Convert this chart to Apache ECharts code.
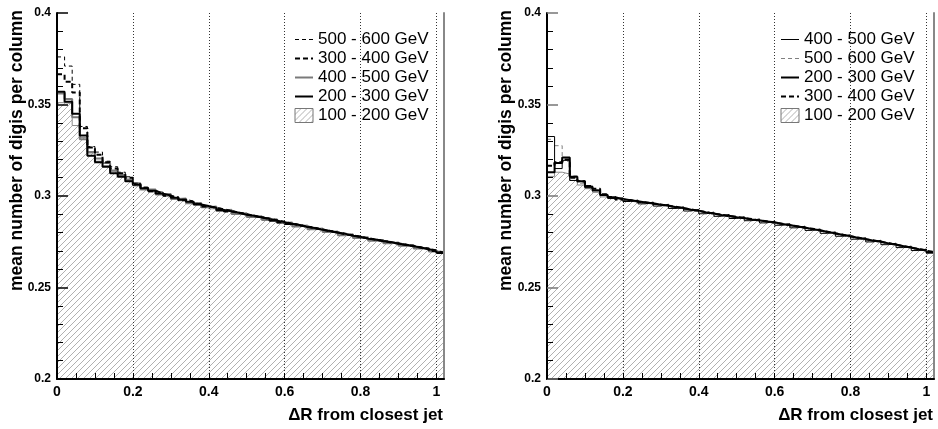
<!DOCTYPE html>
<html>
<head>
<meta charset="utf-8">
<script src="https://cdn.jsdelivr.net/npm/echarts@6/dist/echarts.min.js"></script>
<style>
html,body{margin:0;padding:0;background:#fff;}
#chart{width:938px;height:429px;}
</style>
</head>
<body>
<div id="chart"></div>
<script>
// ---- data ----
const BIN_WIDTH = 0.02;
const X_MAX = 1.02;
const xTickLabels = ['0', '0.2', '0.4', '0.6', '0.8', '1'];
const yTickLabels = ['0.2', '0.25', '0.3', '0.35', '0.4'];

// Left panel
const L_100_200 = [0.3510,0.3505,0.3385,0.3320,0.3235,0.3190,0.3165,0.3135,0.3110,0.3085,
 0.3055,0.3040,0.3022,0.3010,0.2998,0.2987,0.2974,0.2963,0.2951,0.2941,0.2930,0.2921,0.2913,0.2903,0.2895,0.2888,0.2879,0.2871,0.2863,0.2853,0.2845,0.2836,0.2829,0.2820,0.2813,0.2804,0.2797,0.2788,0.2781,0.2772,0.2765,0.2757,0.2751,0.2743,0.2737,0.2729,0.2723,0.2714,0.2707,0.2697,0.2687];
const L_200_300 = [0.3570,0.3515,0.3450,0.3330,0.3220,0.3185,0.3160,0.3125,0.3105,0.3080,
 0.3062,0.3043,0.3029,0.3013,0.3003,0.2991,0.2979,0.2968,0.2954,0.2945,0.2935,0.2924,0.2917,0.2908,0.2898,0.2892,0.2882,0.2876,0.2865,0.2858,0.2847,0.2841,0.2831,0.2825,0.2815,0.2809,0.2799,0.2793,0.2783,0.2777,0.2767,0.2762,0.2753,0.2748,0.2739,0.2734,0.2725,0.2719,0.2709,0.2702,0.2689];
const L_300_400 = [0.3665,0.3625,0.3565,0.3370,0.3265,0.3225,0.3185,0.3150,0.3125,0.3100,
 0.3064,0.3045,0.3026,0.3016,0.3001,0.2992,0.2977,0.2967,0.2956,0.2943,0.2936,0.2926,0.2915,0.2909,0.2900,0.2890,0.2884,0.2874,0.2867,0.2856,0.2849,0.2839,0.2833,0.2823,0.2817,0.2807,0.2801,0.2791,0.2785,0.2775,0.2769,0.2760,0.2755,0.2746,0.2741,0.2732,0.2727,0.2717,0.2711,0.2700,0.2691];
const L_400_500 = [0.3560,0.3530,0.3430,0.3310,0.3240,0.3205,0.3180,0.3140,0.3115,0.3090,
 0.3070,0.3036,0.3035,0.3008,0.3011,0.2984,0.2986,0.2961,0.2962,0.2939,0.2943,0.2918,0.2925,0.2901,0.2906,0.2885,0.2890,0.2869,0.2873,0.2852,0.2855,0.2834,0.2839,0.2818,0.2823,0.2803,0.2806,0.2786,0.2791,0.2771,0.2774,0.2755,0.2760,0.2742,0.2746,0.2728,0.2732,0.2713,0.2716,0.2697,0.2694];
const L_500_600 = [0.3760,0.3710,0.3610,0.3380,0.3270,0.3240,0.3190,0.3160,0.3130,0.3105,
 0.3070,0.3048,0.3030,0.3020,0.3006,0.2995,0.2982,0.2972,0.2960,0.2948,0.2938,0.2930,0.2921,0.2912,0.2903,0.2895,0.2887,0.2880,0.2870,0.2861,0.2852,0.2845,0.2836,0.2829,0.2820,0.2812,0.2804,0.2797,0.2788,0.2780,0.2772,0.2765,0.2758,0.2751,0.2744,0.2737,0.2730,0.2722,0.2714,0.2705,0.2694];

// Right panel
const R_100_200 = [0.3107,0.3130,0.3120,0.3085,0.3060,0.3040,0.3020,0.2995,
 0.2985,0.2978,0.2972,0.2966,0.2961,0.2955,0.2950,0.2943,0.2936,0.2930,0.2922,0.2916,0.2907,0.2901,0.2893,0.2888,0.2881,0.2876,0.2869,0.2864,0.2857,0.2852,0.2844,0.2838,0.2830,0.2824,0.2816,0.2809,0.2800,0.2793,0.2784,0.2777,0.2768,0.2761,0.2753,0.2747,0.2738,0.2731,0.2722,0.2715,0.2706,0.2699,0.2689];
const R_200_300 = [0.3130,0.3180,0.3210,0.3105,0.3080,0.3050,0.3030,0.3005,
 0.2993,0.2983,0.2977,0.2971,0.2964,0.2960,0.2952,0.2948,0.2939,0.2934,0.2925,0.2920,0.2910,0.2905,0.2896,0.2892,0.2884,0.2880,0.2872,0.2868,0.2860,0.2856,0.2847,0.2842,0.2833,0.2828,0.2819,0.2813,0.2803,0.2797,0.2787,0.2781,0.2771,0.2765,0.2756,0.2751,0.2741,0.2735,0.2725,0.2719,0.2709,0.2703,0.2692];
const R_300_400 = [0.3165,0.3185,0.3200,0.3100,0.3080,0.3055,0.3040,0.3010,
 0.2994,0.2981,0.2978,0.2969,0.2966,0.2958,0.2954,0.2946,0.2941,0.2932,0.2927,0.2918,0.2912,0.2903,0.2898,0.2890,0.2886,0.2878,0.2874,0.2866,0.2862,0.2854,0.2849,0.2840,0.2835,0.2826,0.2821,0.2811,0.2805,0.2795,0.2789,0.2779,0.2773,0.2763,0.2758,0.2749,0.2743,0.2733,0.2727,0.2717,0.2711,0.2701,0.2694];
const R_400_500 = [0.3325,0.3150,0.3195,0.3085,0.3075,0.3045,0.3030,0.3005,
 0.2986,0.2990,0.2970,0.2978,0.2957,0.2967,0.2945,0.2955,0.2932,0.2941,0.2918,0.2927,0.2903,0.2912,0.2889,0.2899,0.2877,0.2887,0.2865,0.2875,0.2853,0.2863,0.2840,0.2849,0.2826,0.2835,0.2812,0.2820,0.2796,0.2804,0.2780,0.2788,0.2764,0.2772,0.2749,0.2758,0.2734,0.2742,0.2718,0.2726,0.2702,0.2710,0.2688];
const R_500_600 = [0.3310,0.3275,0.3190,0.3110,0.3070,0.3055,0.3035,0.3010,
 0.2991,0.2980,0.2976,0.2968,0.2965,0.2957,0.2953,0.2945,0.2940,0.2931,0.2926,0.2917,0.2911,0.2902,0.2897,0.2889,0.2885,0.2877,0.2873,0.2865,0.2861,0.2853,0.2848,0.2839,0.2834,0.2825,0.2820,0.2810,0.2804,0.2794,0.2788,0.2778,0.2772,0.2762,0.2757,0.2748,0.2742,0.2732,0.2726,0.2716,0.2710,0.2700,0.2693];

// ---- helpers ----
function histPoints(vals) {
  const pts = vals.map((v, i) => [+(i * BIN_WIDTH).toFixed(4), v]);
  pts.push([X_MAX, vals[vals.length - 1]]);
  return pts;
}
function hatchPattern() {
  const c = document.createElement('canvas');
  c.width = 6; c.height = 6;
  const g = c.getContext('2d');
  g.fillStyle = '#ffffff'; g.fillRect(0, 0, 6, 6);
  g.strokeStyle = '#a8a8a8'; g.lineWidth = 0.9;
  g.beginPath();
  g.moveTo(0, 6); g.lineTo(6, 0);
  g.moveTo(-1, 1); g.lineTo(1, -1);
  g.moveTo(5, 7); g.lineTo(7, 5);
  g.stroke();
  return { image: c, repeat: 'repeat' };
}
const HATCH = hatchPattern();
const FONT = 'Liberation Sans, Arial, Helvetica, sans-serif';
const NOFILL = 'rgba(0,0,0,0)';

const grids = [
  { left: 57, top: 13, width: 387, height: 366 },
  { left: 547, top: 13, width: 387, height: 366 }
];

function xAxes(gi) {
  return [
    { type: 'value', gridIndex: gi, position: 'bottom', min: 0, max: X_MAX, interval: 0.05, z: 10,
      axisLine: { show: true, onZero: false, lineStyle: { color: '#000', width: 2 } },
      axisTick: { show: true, inside: true, length: 6, lineStyle: { color: '#000' } },
      axisLabel: { show: true, margin: 6, fontFamily: FONT, fontWeight: 'bold', fontSize: 14, color: '#000',
        showMaxLabel: false,
        formatter: function (v) {
          const k = Math.round(v / 0.2);
          if (Math.abs(v - k * 0.2) < 1e-6 && k <= 5) return xTickLabels[k];
          return '';
        } },
      splitLine: { show: false } },
    { type: 'value', gridIndex: gi, position: 'top', min: 0, max: X_MAX, interval: 0.2, z: 10,
      axisLine: { show: false }, axisTick: { show: false }, axisLabel: { show: false },
      splitLine: { show: true, lineStyle: { color: '#333', type: [1, 2], width: 1 } } }
  ];
}
function yAxes(gi, tickColor) {
  return [
    { type: 'value', gridIndex: gi, position: 'left', min: 0.2, max: 0.4, interval: 0.05, z: 10,
      axisLine: { show: true, onZero: false, lineStyle: { color: '#000', width: 2 } },
      axisTick: { show: true, inside: true, length: 11, lineStyle: { color: tickColor, width: 1.5 } },
      minorTick: { show: true, splitNumber: 5, length: 6, lineStyle: { color: '#000' } },
      axisLabel: { show: true, margin: 6, fontFamily: FONT, fontWeight: 'bold', fontSize: 12, color: '#000',
        formatter: function (v) {
          const k = Math.round((v - 0.2) / 0.05);
          return yTickLabels[k] !== undefined ? yTickLabels[k] : '';
        } },
      splitLine: { show: false } },
    { type: 'value', gridIndex: gi, position: 'right', min: 0.2, max: 0.4, z: 10,
      axisLine: { show: true, onZero: false, lineStyle: { color: '#888', width: 2 } },
      axisTick: { show: false }, axisLabel: { show: false }, splitLine: { show: false } }
  ];
}

function lineSeries(name, vals, xi, yi, color, width, type, z) {
  return { name: name, type: 'line', step: 'end', xAxisIndex: xi, yAxisIndex: yi,
    data: histPoints(vals), symbol: 'none', showSymbol: false, silent: true, z: z,
    color: color, lineStyle: { color: color, width: width, type: type }, animation: false };
}
function hatchSeries(name, vals, xi, yi) {
  return { name: name, type: 'line', step: 'end', xAxisIndex: xi, yAxisIndex: yi,
    data: histPoints(vals), symbol: 'none', showSymbol: false, silent: true, z: 1,
    color: '#888', lineStyle: { color: '#8a8a8a', width: 1 },
    areaStyle: { color: HATCH, origin: 'start', opacity: 1 }, animation: false };
}

const series = [
  hatchSeries('100 - 200 GeV', L_100_200, 0, 0),
  lineSeries('400 - 500 GeV', L_400_500, 0, 0, '#7a7a7a', 2, 'solid', 2),
  lineSeries('200 - 300 GeV', L_200_300, 0, 0, '#000', 2, 'solid', 3),
  lineSeries('300 - 400 GeV', L_300_400, 0, 0, '#000', 2, [5, 3], 4),
  lineSeries('500 - 600 GeV', L_500_600, 0, 0, '#000', 1, [4, 3], 5),

  hatchSeries('100 - 200 GeV', R_100_200, 2, 2),
  lineSeries('500 - 600 GeV', R_500_600, 2, 2, '#808080', 1, [4, 3], 2),
  lineSeries('400 - 500 GeV', R_400_500, 2, 2, '#000', 1, 'solid', 3),
  lineSeries('300 - 400 GeV', R_300_400, 2, 2, '#000', 2, [5, 3], 4),
  lineSeries('200 - 300 GeV', R_200_300, 2, 2, '#000', 2, 'solid', 5)
];

function legend(left, items) {
  return { show: true, orient: 'vertical', left: left, top: 31, padding: 0,
    itemWidth: 18, itemHeight: 14, itemGap: 2,
    selectedMode: false, textStyle: { fontFamily: FONT, fontSize: 17, color: '#000' },
    data: items.map(it => it.hatch ?
      { name: it.name, icon: 'rect', itemStyle: { color: HATCH, borderColor: '#777', borderWidth: 1 } } :
      { name: it.name, itemStyle: { color: NOFILL, borderColor: NOFILL, borderWidth: 0, opacity: 0 },
        lineStyle: { color: it.color, width: it.width, type: it.type, opacity: 1 } }) };
}

const option = {
  backgroundColor: '#fff',
  animation: false,
  grid: grids,
  xAxis: [...xAxes(0), ...xAxes(1)],
  yAxis: [...yAxes(0, '#000'), ...yAxes(1, '#777')],
  legend: [
    legend(294, [
      { name: '500 - 600 GeV', color: '#000', width: 1, type: [4, 3] },
      { name: '300 - 400 GeV', color: '#000', width: 2, type: [5, 3] },
      { name: '400 - 500 GeV', color: '#7a7a7a', width: 2, type: 'solid' },
      { name: '200 - 300 GeV', color: '#000', width: 2, type: 'solid' },
      { name: '100 - 200 GeV', hatch: true }
    ]),
    legend(780, [
      { name: '400 - 500 GeV', color: '#000', width: 1, type: 'solid' },
      { name: '500 - 600 GeV', color: '#808080', width: 1, type: [4, 3] },
      { name: '200 - 300 GeV', color: '#000', width: 2, type: 'solid' },
      { name: '300 - 400 GeV', color: '#000', width: 2, type: [5, 3] },
      { name: '100 - 200 GeV', hatch: true }
    ])
  ],
  graphic: [
    { type: 'text', x: 17, y: 10, rotation: Math.PI / 2,
      style: { text: 'mean number of digis per column', font: 'bold 17.5px ' + FONT, fill: '#000', align: 'right', verticalAlign: 'middle' } },
    { type: 'text', x: 506, y: 10, rotation: Math.PI / 2,
      style: { text: 'mean number of digis per column', font: 'bold 17.5px ' + FONT, fill: '#000', align: 'right', verticalAlign: 'middle' } },
    { type: 'text', x: 443, y: 415,
      style: { text: 'ΔR from closest jet', font: 'bold 17px ' + FONT, fill: '#000', align: 'right', verticalAlign: 'middle' } },
    { type: 'text', x: 933, y: 415,
      style: { text: 'ΔR from closest jet', font: 'bold 17px ' + FONT, fill: '#000', align: 'right', verticalAlign: 'middle' } }
  ],
  series: series
};

const chart = echarts.init(document.getElementById('chart'), null, { renderer: 'canvas' });
chart.setOption(option);
</script>
</body>
</html>
